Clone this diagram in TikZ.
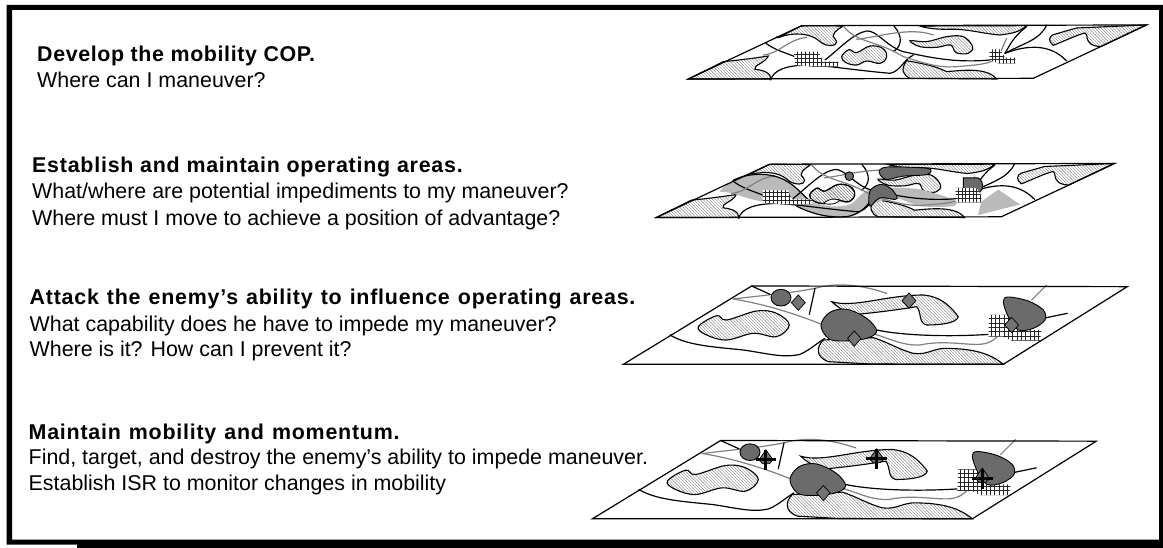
\documentclass[tikz,border=0pt]{standalone}
\usepackage{fontspec}
\setmainfont{Liberation Sans}
\newfontfamily\headwidefam[LetterSpace=3.6,WordSpace=1.2]{Liberation Sans}
\usetikzlibrary{patterns.meta}
\tikzset{
  x=1pt,y=-1pt,
  heading/.style={anchor=base west,inner sep=0pt,font=\fontsize{21.4}{24}\bfseries\addfontfeature{LetterSpace=3.6}\selectfont},
  headingwide/.style={anchor=base west,inner sep=0pt,font=\fontsize{21.4}{24}\headwidefam\bfseries\selectfont},
  headingtight/.style={anchor=base west,inner sep=0pt,font=\fontsize{21.4}{24}\bfseries\addfontfeature{LetterSpace=2.9}\selectfont},
  body/.style={anchor=base west,inner sep=0pt,font=\fontsize{21.4}{24}\selectfont},
  hatch/.style={pattern={Lines[angle=-45,distance=2.2pt,line width=.4pt]},pattern color=black!50},
  isle/.style={hatch,draw=black,line width=1.1pt},
  road/.style={draw=black,line width=1.2pt,line cap=round},
  track/.style={draw=black!50,line width=1.2pt,line cap=round},
  sheet/.style={draw=black,line width=1.2pt,line join=miter},
  darkzone/.style={fill=black!58,draw=black,line width=.9pt},
  lightzone/.style={fill=black!27},
  mesh/.style={draw=black!85,line width=.6pt},
  mark diamond/.style={fill=black!55,draw=black,line width=.7pt},
  crossbar/.style={draw=black,line width=3pt}
}
% grid helper: #1 clip polygon, #2 step
\newcommand{\GridPatch}[6]{%
  \begin{scope}
    \clip #1;
    \fill[white] (#3,#4) rectangle (#5,#6);
    \foreach \gx in {#3,\the\numexpr#3+#2\relax,...,#5} \draw[mesh] (\gx,#4) -- (\gx,#6);
    \foreach \gy in {#4,\the\numexpr#4+#2\relax,...,#6} \draw[mesh] (#3,\gy) -- (#5,\gy);
  \end{scope}}
% flat upper map, units: 1/3 px
\newcommand{\MapFlatIsles}{%
  \path[isle,rounded corners=2pt] (290,85) -- (365,47) -- (490,48) .. controls (470,60) and (450,75) .. (470,90) .. controls (470,110) and (440,110) .. (420,95) .. controls (390,70) and (340,65) .. cycle;
  \path[isle] (25,207) -- (130,155) .. controls (180,150) and (220,145) .. (265,138) .. controls (255,160) and (220,165) .. (225,178) .. controls (250,180) and (275,190) .. (272,207) -- cycle;
  \path[isle] plot[smooth cycle,tension=.65] coordinates {(485,140) (507,119) (530,128) (570,108) (608,115) (620,140) (600,160) (560,153) (530,165) (498,158)};
  \path[isle] plot[smooth cycle,tension=.6] coordinates {(690,92) (740,95) (800,80) (850,80) (878,110) (865,130) (828,128) (812,105) (770,112) (720,110)};
  \path[isle] (720,48) -- (1040,47) .. controls (1020,65) and (1000,70) .. (960,75) .. controls (900,70) and (860,55) .. (800,58) .. controls (770,58) and (740,55) .. cycle;
  \path[isle] (690,205) .. controls (670,195) and (660,180) .. (680,152) .. controls (720,160) and (760,165) .. (800,185) .. controls (840,182) and (920,170) .. (950,207) -- cycle;
  \path[isle] (1190,54) -- (1398,45) -- (1262,110) .. controls (1240,108) and (1222,105) .. (1220,74) -- (1215,69) .. controls (1190,75) and (1150,95) .. (1120,106) .. controls (1105,95) and (1105,80) .. (1120,74) -- cycle;
}
\newcommand{\MapFlatLines}{%
  \draw[road] (258,100) .. controls (285,120) and (315,128) .. (345,140);
  \draw[road] (272,210) .. controls (280,180) and (320,165) .. (390,165) .. controls (450,168) and (520,180) .. (630,190) .. controls (660,185) and (670,150) .. (700,135);
  \draw[road] (435,150) .. controls (480,115) and (520,70) .. (560,63) .. controls (590,60) and (620,110) .. (670,125) .. controls (740,140) and (820,160) .. (930,150);
  \draw[road] (642,48) .. controls (670,80) and (665,110) .. (640,125);
  \draw[road] (975,130) .. controls (1030,100) and (1080,90) .. (1100,45);
  \draw[road] (975,130) .. controls (1040,105) and (1110,100) .. (1160,153);
  \draw[road] (975,130) .. controls (990,105) and (1000,80) .. (1040,50);
  \draw[track] (250,135) .. controls (300,130) and (320,90) .. (380,82);
  \draw[track] (490,48) .. controls (530,100) and (590,90) .. (670,140) .. controls (720,155) and (770,175) .. (830,170) .. controls (880,165) and (950,165) .. (960,130) -- (980,85);
  \draw[track] (530,88) .. controls (600,80) and (690,50) .. (760,75);
}
\newcommand{\MapFlatSheet}{\draw[sheet] (25,207) -- (365,47) -- (1400,45) -- (1060,205) -- cycle;}
% perspective lower map, units: 1/3 px
\newcommand{\MapNearIsles}{%
  \path[isle] plot[smooth cycle,tension=.6] coordinates {(265,155) (320,122) (350,135) (440,108) (500,115) (538,150) (500,185) (430,175) (350,195) (290,180)};
  \path[isle] (665,80) .. controls (730,100) and (830,60) .. (940,60) .. controls (1000,65) and (1030,105) .. (1045,125) .. controls (1040,145) and (990,150) .. (950,150) .. controls (925,145) and (935,110) .. (920,95) .. controls (860,105) and (780,115) .. (720,120) .. controls (700,105) and (680,95) .. cycle;
  \path[isle] (640,195) .. controls (620,215) and (615,245) .. (655,260) -- (780,267) -- (1180,268) .. controls (1140,235) and (1090,220) .. (1000,220) .. controls (960,225) and (950,240) .. (910,235) .. controls (870,225) and (830,200) .. (790,188) -- cycle;
}
\newcommand{\MapNearZones}{%
  \path[track] (370,72) .. controls (450,62) and (540,55) .. (615,40) .. controls (680,22) and (750,28) .. (830,55);
  \path[track] (370,72) .. controls (450,85) and (540,110) .. (640,150);
  \path[track] (795,178) .. controls (850,195) and (880,212) .. (930,210) .. controls (1000,195) and (1060,210) .. (1110,208) .. controls (1145,205) and (1160,190) .. (1180,165);
  \path[track] (1265,75) -- (1310,30);
  \draw[road] (425,33) -- (480,58);
  \draw[road] (615,40) -- (598,118);
  \draw[road] (180,180) .. controls (230,210) and (300,215) .. (400,225) .. controls (470,235) and (520,250) .. (570,238) .. controls (600,225) and (620,205) .. (645,190);
  \draw[road] (800,165) .. controls (870,180) and (1000,187) .. (1140,178);
  \draw[road] (1300,130) -- (1372,115);
  \GridPatch{(1138,120) -- (1205,120) -- (1228,165) -- (1295,165) -- (1290,197) -- (1205,197) -- (1180,185) -- (1135,185) -- cycle}{13}{1130}{118}{1300}{200}
  \path[darkzone] plot[smooth cycle,tension=.6] coordinates {(633,150) (660,112) (710,103) (770,130) (800,168) (770,190) (700,198) (655,190)};
  \path[darkzone] plot[smooth cycle,tension=.55] coordinates {(1180,80) (1195,66) (1255,78) (1300,105) (1305,135) (1270,160) (1225,165) (1195,125)};
  \path[darkzone] (513,68) ellipse [x radius=30,y radius=25];
  \path[mark diamond] (733,168) -- (753,190) -- (733,214) -- (713,190) -- cycle;
}
\newcommand{\MapNearSheet}{\draw[sheet] (40,268) -- (425,33) -- (1552,35) -- (1180,268) -- cycle;}
\newcommand{\Plainmark}[2]{\path[mark diamond] (#1,#2-23) -- (#1+21,#2) -- (#1,#2+23) -- (#1-21,#2) -- cycle;}
\newcommand{\Crossmark}[2]{%
  \path[mark diamond] (#1,#2-30) -- (#1+21,#2) -- (#1+10,#2+12) -- (#1-10,#2+12) -- (#1-21,#2) -- cycle;
  \draw[crossbar] (#1-31,#2) -- (#1+31,#2) (#1,#2-28) -- (#1,#2+32);}
\begin{document}
\begin{tikzpicture}
\useasboundingbox (0,0) rectangle (1163,548);
\fill[white] (0,0) rectangle (1163,548);
\fill[black,even odd rule] (6.5,5) -- (1163,5) -- (1163,548) -- (77,548) -- (77,544.5) -- (6.5,544.5) -- cycle (12,10) rectangle (1159,539.5);

\node[headingtight] (h1) at (37,62) {Develop the mobility COP.};
\node[body] (b1) at (37,88) {Where can I maneuver?};
\node[heading] (h2) at (32,172.5) {Establish and maintain operating areas.};
\node[body] (b2) at (32,199) {What/where are potential impediments to my maneuver?};
\node[body] (b3) at (32,225.5) {Where must I move to achieve a position of advantage?};
\node[headingwide] (h3) at (29.5,305) {Attack the enemy’s ability to influence operating areas.};
\node[body] (b4) at (29.5,331.5) {What capability does he have to impede my maneuver?};
\node[body] (b5) at (29.5,356.5) {Where is it? How can I prevent it?};
\node[headingwide] (h4) at (28.5,439) {Maintain mobility and momentum.};
\node[body] (b6) at (28.5,464.5) {Find, target, and destroy the enemy’s ability to impede maneuver.};
\node[body] (b7) at (28.5,490) {Establish ISR to monitor changes in mobility};

% map 1
\begin{scope}[shift={(680,10)},x=.3333pt,y=-.3333pt]
  \MapFlatIsles \MapFlatLines
  \GridPatch{(342,125) -- (415,125) -- (430,155) -- (475,155) -- (475,170) -- (400,170) -- (345,165) -- cycle}{12}{340}{120}{480}{172}
  \GridPatch{(928,118) -- (960,118) -- (975,143) -- (1006,143) -- (1006,160) -- (955,160) -- (928,150) -- cycle}{11}{925}{116}{1010}{164}
  \MapFlatSheet
\end{scope}
% map 2
\begin{scope}[shift={(648,148.5)},x=.3333pt,y=-.3333pt]
  \MapFlatIsles
  \path[lightzone] plot[smooth cycle,tension=.5] coordinates {(216,128) (246,103) (296,78) (376,83) (416,98) (456,128) (486,158) (546,173) (606,168) (646,133) (686,118) (751,118) (816,123) (916,153) (916,173) (816,173) (746,150) (666,168) (626,198) (566,206) (506,198) (446,173) (336,158) (246,133)};
  \path[lightzone] (990,200) -- (1000,160) -- (1051,123) -- (1116,168) -- cycle;
  \path[isle] plot[smooth cycle,tension=.65] coordinates {(485,140) (507,119) (530,128) (570,108) (608,115) (620,140) (600,160) (560,153) (530,165) (498,158)};
  \path[fill=white,draw=black,line width=.8pt] plot[smooth cycle,tension=.6] coordinates {(528,163) (552,152) (574,156) (560,165) (540,167)};
  \MapFlatLines
  \draw[road] (255,96) .. controls (300,72) and (370,70) .. (416,98) .. controls (445,115) and (455,130) .. (486,158);
  \draw[road] (446,173) .. controls (490,195) and (540,210) .. (600,204) .. controls (640,195) and (660,170) .. (672,150);
  \path[darkzone] plot[smooth cycle,tension=.5] coordinates {(696,63) (726,55) (841,60) (838,78) (766,83) (716,93) (696,78)};
  \path[darkzone] plot[smooth cycle,tension=.6] coordinates {(666,128) (696,108) (726,118) (746,143) (741,153) (696,148) (666,173)};
  \path[darkzone] (946,88) -- (990,88) .. controls (1010,100) and (1010,125) .. (986,138) .. controls (965,135) and (950,125) .. (946,118) -- cycle;
  \path[darkzone] (604,83) circle [radius=13];
  \GridPatch{(344,125) -- (420,125) -- (432,153) -- (492,153) -- (492,168) -- (420,168) -- (344,163) -- cycle}{12}{340}{120}{500}{172}
  \GridPatch{(922,118) -- (985,118) -- (1000,140) -- (1000,162) -- (925,162) -- cycle}{11}{920}{116}{1005}{165}
  \MapFlatSheet
\end{scope}
% map 3
\begin{scope}[shift={(610,275)},x=.3333pt,y=-.3333pt]
  \MapNearIsles \MapNearZones
  \Plainmark{565}{83} \Plainmark{897}{77} \Plainmark{1205}{150}
  \MapNearSheet
\end{scope}
% map 4
\begin{scope}[shift={(579,429.5)},x=.3333pt,y=-.3333pt]
  \MapNearIsles \MapNearZones
  \Crossmark{561}{91} \Crossmark{893}{88} \Crossmark{1210}{146}
  \MapNearSheet
\end{scope}
\end{tikzpicture}
\end{document}
